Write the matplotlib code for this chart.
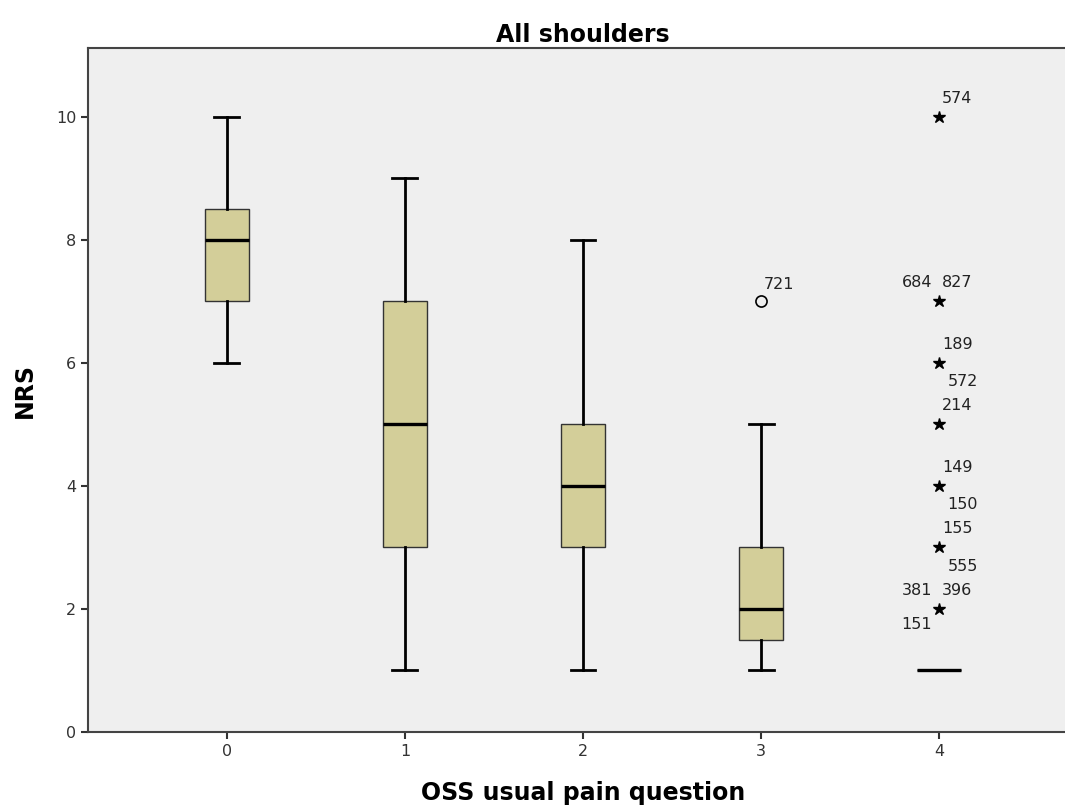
import matplotlib
matplotlib.use("Agg")
import matplotlib.pyplot as plt

# box statistics
groups = [0, 1, 2, 3, 4]
q1 = [7, 3, 3, 1.5, 1]
med = [8, 5, 4, 2, 1]
q3 = [8.5, 7, 5, 3, 1]
whis_lo = [6, 1, 1, 1, 1]
whis_hi = [10, 9, 8, 5, 1]

# outliers (circle) and extremes (star) with case labels
out_x = [3]
out_y = [7]
out_lab = ["721"]

ext_x = [4, 4, 4, 4, 4, 4, 4]
ext_y = [10, 7, 6, 5, 4, 3, 2]
ext_labels = [
    [("574", "ur")],
    [("684", "ul"), ("827", "ur")],
    [("189", "ur"), ("572", "dr")],
    [("214", "ur")],
    [("149", "ur"), ("150", "dr")],
    [("155", "ur"), ("555", "dr")],
    [("381", "ul"), ("396", "ur"), ("151", "dl")],
]

stats = []
for i in range(len(groups)):
    stats.append(dict(q1=q1[i], med=med[i], q3=q3[i], whislo=whis_lo[i], whishi=whis_hi[i], fliers=[]))

fig = plt.figure(figsize=(10.65, 8.09), dpi=100)
ax = fig.add_axes([88/1065, 77/809, 990/1065, 684/809])
ax.set_facecolor("#efefef")

ax.bxp(stats, positions=groups, widths=0.25, capwidths=0.14, patch_artist=True, showfliers=False,
       boxprops=dict(facecolor="#d3ce99", edgecolor="#333333", linewidth=1.0),
       medianprops=dict(color="black", linewidth=2.4),
       whiskerprops=dict(color="black", linewidth=2.0),
       capprops=dict(color="black", linewidth=2.0))

ax.plot(out_x, out_y, "o", mfc="none", mec="black", ms=8, mew=1.2)
ax.plot(ext_x, ext_y, "*", color="black", ms=9)

offs = {"ur": (2, 8, "left", "bottom"), "ul": (-5, 8, "right", "bottom"),
        "dr": (6, -8, "left", "top"), "dl": (-5, -6, "right", "top")}
for i in range(len(out_x)):
    ax.annotate(out_lab[i], (out_x[i], out_y[i]), xytext=(2, 7), textcoords="offset points",
                ha="left", va="bottom", fontsize=11.5, color="#222222")
for i in range(len(ext_x)):
    for lab, pos in ext_labels[i]:
        dx, dy, ha, va = offs[pos]
        ax.annotate(lab, (ext_x[i], ext_y[i]), xytext=(dx, dy), textcoords="offset points",
                    ha=ha, va=va, fontsize=11.5, color="#222222")

ax.set_xlim(-0.78, 4.78)
ax.set_ylim(0, 11.12)
ax.set_xticks(groups)
ax.set_xticklabels([str(g) for g in groups])
ax.set_yticks([0, 2, 4, 6, 8, 10])
ax.tick_params(direction="out", length=5, width=1.5, color="#333333", labelsize=11.5, labelcolor="#333333")
for s in ["left", "bottom", "top"]:
    ax.spines[s].set_linewidth(1.5)
    ax.spines[s].set_color("#444444")
ax.spines["right"].set_visible(False)

ax.set_title("All shoulders", fontsize=17, fontweight="bold", pad=4)
ax.set_xlabel("OSS usual pain question", fontsize=17, fontweight="bold", labelpad=16)
ax.set_ylabel("NRS", fontsize=17, fontweight="bold", labelpad=14)

fig.savefig("out.png", dpi=100)
